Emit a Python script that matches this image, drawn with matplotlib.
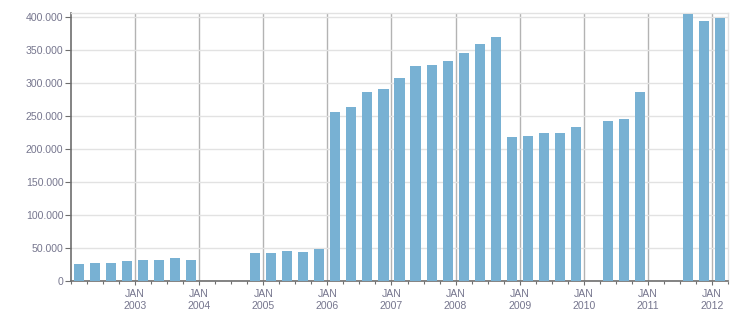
import matplotlib
matplotlib.use("Agg")
import matplotlib.pyplot as plt
import numpy as np
from matplotlib.ticker import FuncFormatter, MultipleLocator

# quarterly values, 2002 Q1 .. 2012 Q1 (None = no data)
quarters = [f"{y} Q{q}" for y in range(2002, 2013) for q in range(1, 5)][:41]
values = [
    26300, 27800, 27800, 30800,
    32300, 32300, 35400, 32300,
    None, None, None, 42900,
    42900, 46000, 44400, 49000,
    256600, 264100, 286900, 291400,
    308000, 326300, 327800, 333800,
    346000, 359600, 370200, 218700,
    220200, 224700, 224700, 233800,
    None, 242900, 246000, 286900,
    None, None, 404500, 394400,
    399000,
]
year_labels = [f"JAN\n{y}" for y in range(2003, 2013)]

text_color = "#76768e"
bar_color = "#78b1d3"
light_grid = "#e2e2e2"
dark_grid = "#b3b3b3"
axis_color = "#6e6e6e"

plt.rcParams["font.family"] = ["Liberation Sans", "DejaVu Sans"]

fig = plt.figure(figsize=(7.51, 3.13), dpi=100)
ax = fig.add_axes([71 / 751, 32 / 313, (728 - 71) / 751, (281 - 13.3) / 313])

x = np.arange(len(quarters)) + 0.5
heights = [v if v is not None else 0 for v in values]
mask = [v is not None for v in values]
ax.bar(x[mask], np.array(heights)[mask], width=0.63, color=bar_color, zorder=3)

ax.set_xlim(0, len(quarters))
ax.set_ylim(0, 405600)

ax.set_yticks(np.arange(0, 400001, 50000))
ax.yaxis.set_major_formatter(FuncFormatter(lambda v, p: f"{int(v):,}".replace(",", ".")))
ax.set_xticks(np.arange(4, 41, 4))
ax.set_xticklabels(year_labels)
ax.xaxis.set_minor_locator(MultipleLocator(1))

ax.grid(axis="y", color=light_grid, linewidth=1, zorder=0)
ax.grid(axis="x", which="major", color=dark_grid, linewidth=1, zorder=1)

for side in ["left", "bottom"]:
    ax.spines[side].set_color(axis_color)
    ax.spines[side].set_linewidth(1.2)
for side in ["top", "right"]:
    ax.spines[side].set_color(light_grid)
    ax.spines[side].set_linewidth(1)

ax.tick_params(axis="y", length=4, width=0.8, color=axis_color, labelsize=7.6,
               labelcolor=text_color, pad=1.5)
ax.tick_params(axis="x", which="major", length=3, width=0.8, color=axis_color,
               labelsize=7.6, labelcolor=text_color, pad=3)
ax.tick_params(axis="x", which="minor", length=2, width=0.8, color=axis_color)
for lbl in ax.get_xticklabels():
    lbl.set_linespacing(1.25)

fig.savefig("out.png", dpi=100)
